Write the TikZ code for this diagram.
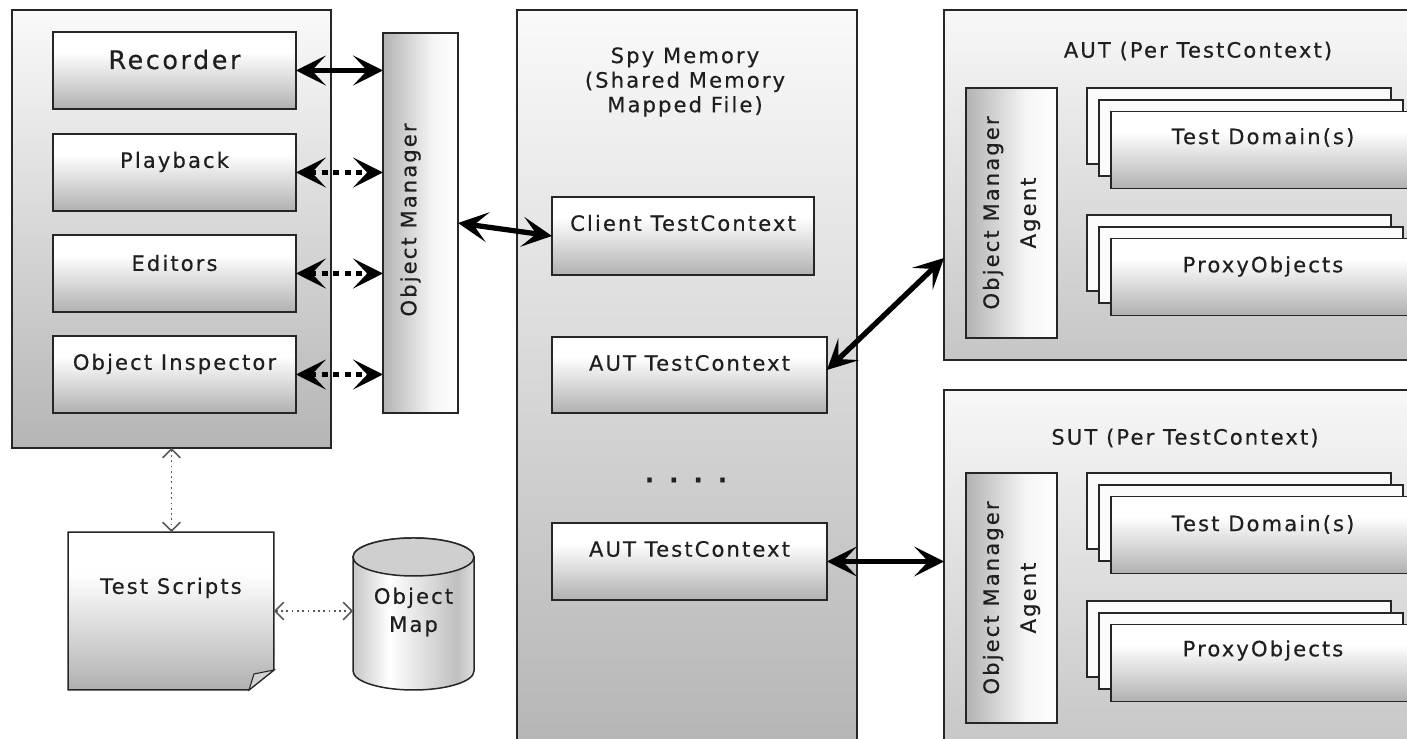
\documentclass[tikz,border=0pt]{standalone}
\usepackage{fontspec}
\setmainfont{DejaVu Sans}[LetterSpace=10,FakeBold=0.4]
\usetikzlibrary{arrows.meta,calc}

% vertical shadings: colour(0bp) is the bottom, the 25bp..75bp band covers the shape
\pgfdeclareverticalshading{boxsh}{100bp}{color(0bp)=(gray!62); color(25bp)=(gray!62); color(45bp)=(gray!28); color(62bp)=(white); color(100bp)=(white)}
\pgfdeclareverticalshading{panelsh}{100bp}{color(0bp)=(gray!58); color(25bp)=(gray!58); color(75bp)=(white!96!gray); color(100bp)=(white!96!gray)}
\pgfdeclareverticalshading{lightpanelsh}{100bp}{color(0bp)=(gray!45); color(25bp)=(gray!45); color(75bp)=(white!94!gray); color(100bp)=(white!94!gray)}
% horizontal shadings: colour(0bp) is the left side
\pgfdeclarehorizontalshading{barsh}{100bp}{color(0bp)=(gray!60); color(25bp)=(gray!60); color(58bp)=(white!92!gray); color(75bp)=(white); color(100bp)=(white)}
\pgfdeclarehorizontalshading{cylsh}{100bp}{color(0bp)=(gray!45); color(25bp)=(gray!45); color(40bp)=(white); color(60bp)=(gray!35); color(68bp)=(gray!50); color(75bp)=(gray!25); color(100bp)=(gray!25)}

\begin{document}
\begin{tikzpicture}[x=0.02cm,y=0.02cm,
  outline/.style={draw=black!85, line width=0.85pt},
  blk/.style={outline, rectangle, inner sep=0pt, outer sep=0pt},
  box/.style={blk, shading=boxsh},
  panel/.style={blk, shading=panelsh},
  lpanel/.style={blk, shading=lightpanelsh},
  bar/.style={blk, shading=barsh},
  sheet/.style={blk, fill=white!97!gray, minimum width=6.08cm, minimum height=1.52cm},
  frontsheet/.style={box, minimum width=6.08cm, minimum height=1.54cm},
  lbl/.style={text=black!88, inner sep=0pt, font=\fontsize{12}{14.5}\selectfont},
  bigarrow/.style={line width=3pt, black, {Stealth[length=17pt,width=17pt,inset=8pt]}-{Stealth[length=17pt,width=17pt,inset=8pt]}},
  dotarrow/.style={bigarrow, dash pattern=on 3.4pt off 3.2pt},
  linkarrow/.style={draw=black!65, line width=1pt, dotted,
    {Straight Barb[length=5pt,width=10pt,line width=0.9pt]}-{Straight Barb[length=5pt,width=10pt,line width=0.9pt]}}
]
\useasboundingbox (0,0) rectangle (1407,739);
\clip (0,0) rectangle (1407,739);
\fill[white] (0,0) rectangle (1407,739);

% ---------------- client tools ----------------
\node[panel, minimum width=6.38cm, minimum height=8.76cm] (tools) at (171.5,510) {};
\node[box, minimum width=4.86cm, minimum height=1.54cm] (rec)  at (174.5,668.5) {};
\node[box, minimum width=4.86cm, minimum height=1.54cm] (play) at (174.5,566.5) {};
\node[box, minimum width=4.86cm, minimum height=1.54cm] (edit) at (174.5,465.5) {};
\node[box, minimum width=4.86cm, minimum height=1.54cm] (insp) at (174.5,364.5) {};
\node[lbl, font=\fontsize{14.5}{17}\selectfont] at ([yshift=-0.55cm]rec.north) {Recorder};
\node[lbl] at ([yshift=-0.56cm]play.north) {Playback};
\node[lbl] at ([yshift=-0.56cm]edit.north) {Editors};
\node[lbl] at ([yshift=-0.56cm]insp.north) {Object Inspector};

\node[bar, minimum width=1.5cm, minimum height=7.6cm] (om) at (420.5,516) {};
\node[lbl, rotate=90] at ([xshift=-0.2cm,yshift=0.06cm]om.center) {Object Manager};

% ---------------- scripts and object map ----------------
\node[inner sep=0pt, outer sep=0pt, minimum width=4.12cm, minimum height=3.16cm] (ts) at (171,128) {};
\shade[outline, shading=boxsh] (ts.north west) -- (ts.north east) -- ([yshift=0.4cm]ts.south east)
  -- ([xshift=-0.5cm]ts.south east) -- (ts.south west) -- cycle;
\filldraw[outline, line width=0.6pt, fill=gray!35] ([xshift=-0.5cm]ts.south east)
  -- ([xshift=-0.4cm,yshift=0.32cm]ts.south east) -- ([yshift=0.4cm]ts.south east) -- cycle;
\node[lbl] at (171,151) {Test Scripts};

\node[inner sep=0pt, outer sep=0pt, minimum width=2.42cm, minimum height=3.04cm] (omap) at (413.5,125) {};
\shade[outline, shading=cylsh] (353,182) -- (353,68)
  arc[start angle=180, end angle=360, x radius=60.5, y radius=19] -- (474,182)
  arc[start angle=0, end angle=180, x radius=60.5, y radius=19] -- cycle;
\filldraw[outline, fill=gray!38] (413.5,182) ellipse [x radius=60.5, y radius=19];
\node[lbl, align=center, font=\fontsize{12}{16}\selectfont] at (413.5,127) {Object\\Map};

% ---------------- shared memory ----------------
\node[panel, minimum width=6.8cm, minimum height=14.8cm] (spy) at (687,359) {};
\node[lbl, align=center, font=\fontsize{12}{14}\selectfont] at (685,657) {Spy Memory\\(Shared Memory\\Mapped File)};
\node[box, minimum width=5.24cm, minimum height=1.56cm] (client) at (683,503) {};
\node[box, minimum width=5.5cm, minimum height=1.52cm] (aut1) at (689.5,364) {};
\node[box, minimum width=5.5cm, minimum height=1.54cm] (aut2) at (689.5,177.5) {};
\node[lbl] at ([yshift=-0.52cm]client.north) {Client TestContext};
\node[lbl] at ([yshift=-0.52cm]aut1.north) {AUT TestContext};
\node[lbl] at ([yshift=-0.52cm]aut2.north) {AUT TestContext};
\node[lbl, font=\fontsize{14}{16}\bfseries] at (686,259) {.\hspace{0.3cm}.\hspace{0.3cm}.\hspace{0.3cm}.};

% ---------------- AUT process ----------------
\node[lpanel, minimum width=9.52cm, minimum height=7cm] (autbox) at (1182,554) {};
\node[lbl] at (1198,688) {AUT (Per TestContext)};
\node[bar, minimum width=1.82cm, minimum height=5cm] (oma1) at (1011.5,526) {};
\node[lbl, rotate=90, align=center, font=\fontsize{12}{21}\selectfont] at (oma1.center) {Object Manager\\Agent};
\node[sheet] (tdA1) at (1239,613) {};
\node[sheet] (tdA2) at (1251,601) {};
\node[frontsheet] (tdA3) at (1263,589) {};
\node[lbl] at ([yshift=-0.52cm]tdA3.north) {Test Domain(s)};
\node[sheet] (poA1) at (1239,486) {};
\node[sheet] (poA2) at (1251,474) {};
\node[frontsheet] (poA3) at (1263,462) {};
\node[lbl] at ([yshift=-0.56cm]poA3.north) {ProxyObjects};

% ---------------- SUT process ----------------
\node[lpanel, minimum width=9.52cm, minimum height=7.2cm] (sutbox) at (1182,169) {};
\node[lbl] at (1185,301) {SUT (Per TestContext)};
\node[bar, minimum width=1.82cm, minimum height=5cm] (oma2) at (1011.5,141) {};
\node[lbl, rotate=90, align=center, font=\fontsize{12}{21}\selectfont] at (oma2.center) {Object Manager\\Agent};
\node[sheet] (tdS1) at (1239,228) {};
\node[sheet] (tdS2) at (1251,216) {};
\node[frontsheet] (tdS3) at (1263,204) {};
\node[lbl] at ([yshift=-0.56cm]tdS3.north) {Test Domain(s)};
\node[sheet] (poS1) at (1239,100) {};
\node[sheet] (poS2) at (1251,88) {};
\node[frontsheet] (poS3) at (1263,76) {};
\node[lbl] at ([yshift=-0.52cm]poS3.north) {ProxyObjects};

% ---------------- connectors ----------------
\draw[bigarrow] (rec.east) -- (rec.east -| om.west);
\draw[dotarrow] (play.east) -- (play.east -| om.west);
\draw[dotarrow] (edit.east) -- (edit.east -| om.west);
\draw[dotarrow] (insp.east) -- (insp.east -| om.west);
\draw[bigarrow] (om.east) -- (client.west);
\draw[bigarrow] ([yshift=0.1cm]aut1.east) -- ([yshift=-1.46cm]autbox.west);
\draw[bigarrow] (aut2.east) -- (aut2.east -| sutbox.west);
\draw[linkarrow] (tools.south) -- (tools.south |- ts.north);
\draw[linkarrow] (ts.east) -- (ts.east -| omap.west);
\end{tikzpicture}
\end{document}
